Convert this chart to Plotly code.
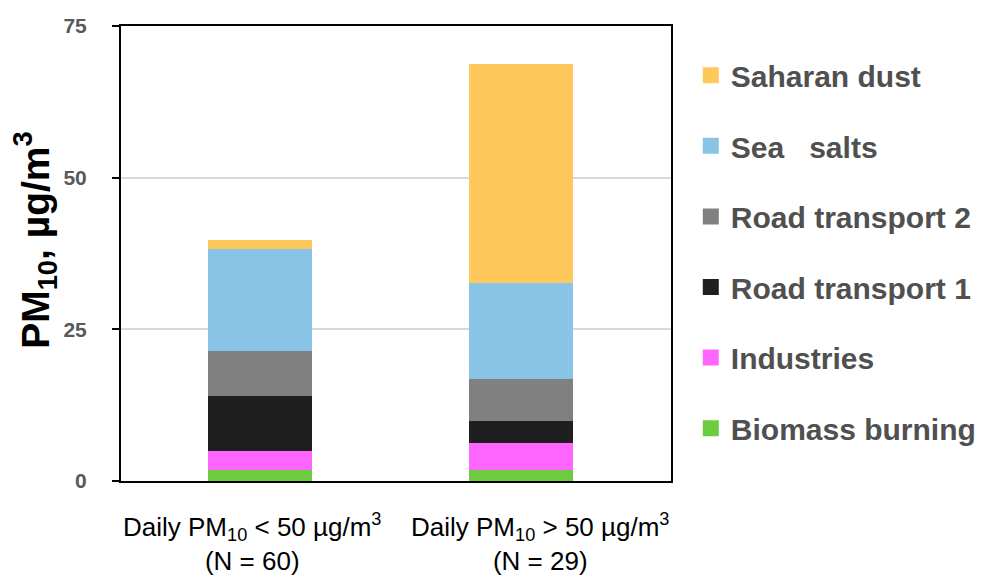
import plotly.graph_objects as go

# categorias (eixo x) e fontes de PM10 (séries empilhadas)
categorias = ["PM10 < 50", "PM10 > 50"]
rotulos_x = [
    "Daily PM<sub>10</sub> < 50 µg/m<sup>3</sup><br>(N = 60)",
    "Daily PM<sub>10</sub> > 50 µg/m<sup>3</sup><br>(N = 29)",
]
fontes = ["Biomass burning", "Industries", "Road transport 1",
          "Road transport 2", "Sea   salts", "Saharan dust"]
cores = ["#6CCB3F", "#FF66FF", "#1F1F1F", "#808080", "#89C3E6", "#FFC85C"]

biomass = [1.8, 1.8]
industries = [3.1, 4.4]
road1 = [9.1, 3.7]
road2 = [7.4, 6.9]
sea_salts = [16.8, 15.8]
saharan = [1.6, 36.1]
valores = [biomass, industries, road1, road2, sea_salts, saharan]

y_ticks = [0, 25, 50, 75]

fig = go.Figure()
for nome, cor, vals in zip(fontes, cores, valores):
    fig.add_trace(go.Bar(
        x=categorias, y=vals, name=nome,
        marker=dict(color=cor, line=dict(width=0)),
        showlegend=False,
    ))

# legenda: quadrados maiores, ordem de cima para baixo
for i, (nome, cor) in enumerate(zip(fontes[::-1], cores[::-1])):
    fig.add_trace(go.Scatter(
        x=[None], y=[None], mode="markers", name=nome,
        marker=dict(symbol="square", size=16, color=cor),
        legendgroup=str(i),
    ))

# rótulos do eixo x (deslocados como no original para não se sobreporem)
for cat, rot, dx in zip(categorias, rotulos_x, [-8, 19]):
    fig.add_annotation(
        x=cat, xref="x", y=0, yref="paper", yanchor="top",
        text=rot, showarrow=False, xshift=dx, yshift=-26,
        font=dict(size=26, color="black"),
    )

# título do eixo y como anotação (mais perto da borda que o título normal)
fig.add_annotation(
    x=0, xref="paper", y=0.53, yref="paper",
    xanchor="center", yanchor="middle", textangle=-90,
    text="<b>PM<sub>10</sub>, µg/m<sup>3</sup></b>", showarrow=False,
    xshift=-86, font=dict(size=39, color="black"),
)

# o <body> da página tem 8 px de margem, por isso 982x571
fig.update_layout(
    barmode="stack",
    bargap=0.6,
    width=982, height=571,
    margin=dict(l=113, r=319, t=18, b=98, autoexpand=False),
    plot_bgcolor="white",
    paper_bgcolor="white",
    font=dict(family="Liberation Sans, Arial", color="black"),
    showlegend=True,
    legend=dict(
        x=1.036, xanchor="left", y=0.949, yanchor="top",
        font=dict(size=30, color="#505050", weight="bold"),
        traceorder="grouped",
        tracegroupgap=28.6,
        maxheight=1,
        bgcolor="rgba(0,0,0,0)",
    ),
)

fig.update_yaxes(
    range=[0, 75], tickvals=y_ticks,
    ticks="outside", ticklen=7, tickwidth=2, tickcolor="black",
    showline=True, linecolor="black", linewidth=2, mirror=True,
    showgrid=True, gridcolor="#D9D9D9", gridwidth=2,
    zeroline=False, automargin=False,
    tickfont=dict(size=21, color="#595959", weight="bold"),
    ticklabelstandoff=21,
)
fig.update_xaxes(
    showline=True, linecolor="black", linewidth=2, mirror=True,
    ticks="", showticklabels=False, automargin=False,
)

fig.write_html("out.html")
